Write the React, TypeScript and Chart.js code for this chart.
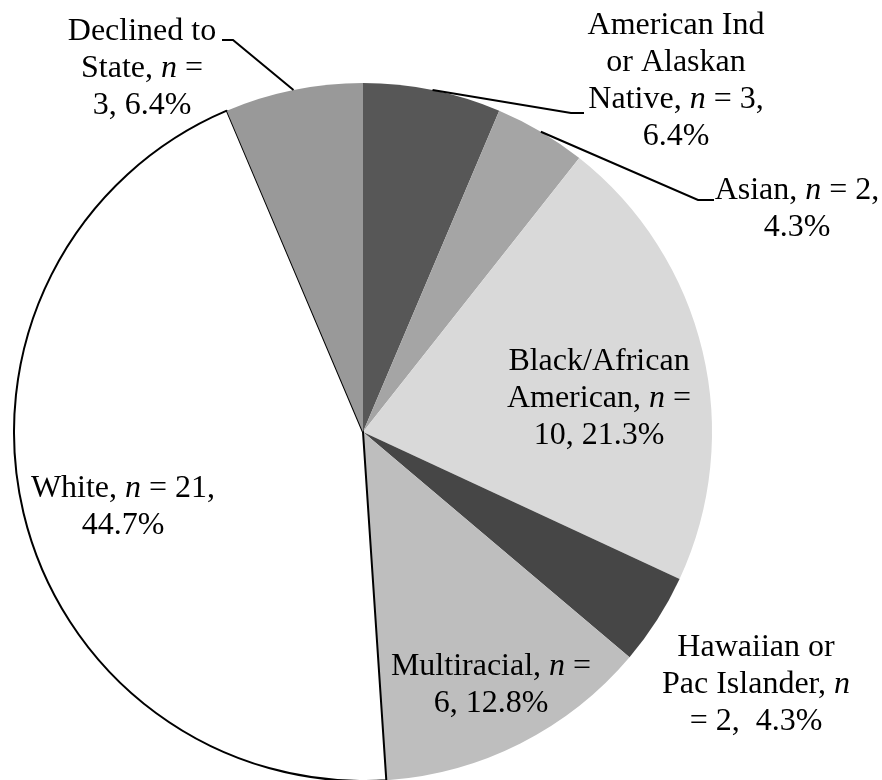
import React, { useEffect, useRef } from "react";
import { Chart, registerables } from "chart.js";

Chart.register(...registerables);

const categories = [
  "American Ind or Alaskan Native",
  "Asian",
  "Black/African American",
  "Hawaiian or Pac Islander",
  "Multiracial",
  "White",
  "Declined to State",
];
const counts = [3, 2, 10, 2, 6, 21, 3];
const percents = ["6.4%", "4.3%", "21.3%", "4.3%", "12.8%", "44.7%", "6.4%"];

// Label text lines (*n* = italic n)
const labelLines = [
  ["American Ind", "or Alaskan", `Native, *n* = ${counts[0]},`, percents[0]],
  [`Asian, *n* = ${counts[1]},`, percents[1]],
  ["Black/African", "American, *n* =", `${counts[2]}, ${percents[2]}`],
  ["Hawaiian or", "Pac Islander, *n*", `= ${counts[3]},  ${percents[3]}`],
  ["Multiracial, *n* =", `${counts[4]}, ${percents[4]}`],
  [`White, *n* = ${counts[5]},`, percents[5]],
  ["Declined to", "State, *n* =", `${counts[6]}, ${percents[6]}`],
];

const sliceColors = ["#575757", "#a5a5a5", "#d9d9d9", "#464646", "#bebebe", "#ffffff", "#999999"];
const sliceBorderWidths = [0, 0, 0, 0, 0, 2, 0];

// Label layout relative to pie centre: [centerX offset, first baseline offset, leader elbow dx, elbow dy, leader end dx]
const labelLayout: (number | null)[][] = [
  [313, -398, 208, -319, 221],
  [434, -233, 335, -232, 351],
  [236, -62, null, null, null],
  [393, 224, null, null, null],
  [128, 243, null, null, null],
  [-240, 65, null, null, null],
  [-221, -392, -130, -392, -141],
];

const FONT_FAMILY = '"Liberation Serif", "Times New Roman", serif';
const FONT_SIZE = 32;
const LINE_HEIGHT = 37;

function drawRich(ctx: CanvasRenderingContext2D, line: string, cx: number, y: number) {
  const parts = line.split(/(\*n\*)/).filter((p) => p.length > 0);
  const runs = parts.map((p) => {
    const italic = p === "*n*";
    const text = italic ? "n" : p;
    const font = `${italic ? "italic " : ""}${FONT_SIZE}px ${FONT_FAMILY}`;
    ctx.font = font;
    return { text, font, w: ctx.measureText(text).width };
  });
  const total = runs.reduce((s, r) => s + r.w, 0);
  let x = cx - total / 2;
  for (const r of runs) {
    ctx.font = r.font;
    ctx.fillText(r.text, x, y);
    x += r.w;
  }
}

const labelPlugin = {
  id: "pieLabels",
  afterDatasetsDraw(chart: any) {
    const ctx: CanvasRenderingContext2D = chart.ctx;
    const meta = chart.getDatasetMeta(0);
    ctx.save();
    ctx.fillStyle = "#000";
    ctx.strokeStyle = "#000";
    ctx.lineWidth = 2;
    ctx.textAlign = "left";
    ctx.textBaseline = "alphabetic";
    meta.data.forEach((arc: any, i: number) => {
      const { x: cx, y: cy, startAngle, endAngle, outerRadius } = arc.getProps(
        ["x", "y", "startAngle", "endAngle", "outerRadius"],
        true
      );
      const lay = labelLayout[i];
      const lx = cx + (lay[0] as number);
      const ly = cy + (lay[1] as number);
      labelLines[i].forEach((ln, k) => drawRich(ctx, ln, lx, ly + k * LINE_HEIGHT));
      if (lay[2] !== null) {
        const mid = (startAngle + endAngle) / 2;
        const ax = cx + Math.cos(mid) * outerRadius;
        const ay = cy + Math.sin(mid) * outerRadius;
        ctx.beginPath();
        ctx.moveTo(ax, ay);
        ctx.lineTo(cx + (lay[2] as number), cy + (lay[3] as number));
        ctx.lineTo(cx + (lay[4] as number), cy + (lay[3] as number));
        ctx.stroke();
      }
    });
    ctx.restore();
  },
};

export default function App() {
  const ref = useRef<HTMLCanvasElement>(null);
  useEffect(() => {
    if (!ref.current) return;
    const chart = new Chart(ref.current, {
      type: "pie",
      data: {
        labels: categories,
        datasets: [
          {
            data: counts,
            backgroundColor: sliceColors,
            borderColor: "#000000",
            borderWidth: sliceBorderWidths,
          },
        ],
      },
      options: {
        responsive: false,
        animation: false,
        radius: 349,
        layout: { padding: { left: 14, right: 170, top: 84, bottom: 0 } },
        plugins: {
          legend: { display: false },
          tooltip: { enabled: false },
        },
      } as any,
      plugins: [labelPlugin],
    });
    return () => chart.destroy();
  }, []);
  return (
    <div style={{ position: "absolute", left: 0, top: 0, width: 882, height: 780, overflow: "hidden", background: "#fff" }}>
      <canvas ref={ref} width={882} height={780} style={{ width: 882, height: 780 }} />
    </div>
  );
}
